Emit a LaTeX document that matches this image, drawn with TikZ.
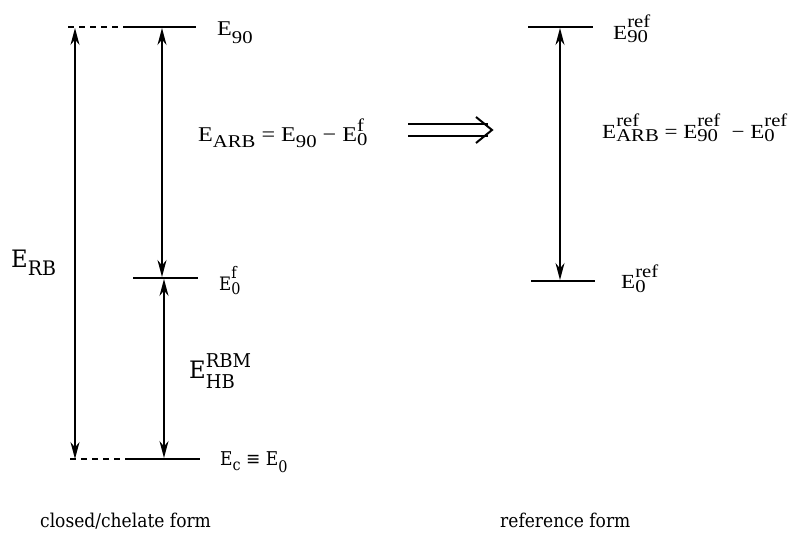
\documentclass[tikz,border=0pt]{standalone}
\usepackage{fontspec}
\setmainfont{Liberation Serif}[FakeStretch=1.15]
\newfontfamily\dvs{DejaVu Serif}[FakeStretch=0.9]
\newfontfamily\dvsn{DejaVu Serif}[FakeStretch=0.95]
\usetikzlibrary{arrows.meta}
\def\subsz{18}
\newcommand\subfont{\fontsize{\subsz}{\subsz}\selectfont}
\newcommand\lsub[2]{{\subfont\raisebox{-#1}{#2}}}
\newcommand\lsubsup[4]{{\subfont\setbox0\hbox{\raisebox{-#1}{#2}}\setbox2\hbox{\raisebox{#3}{#4}}\ifdim\wd0>\wd2 \rlap{\box2}\box0 \else\rlap{\box0}\box2 \fi}}
\tikzset{
  level/.style={line width=2.2pt},
  dashlevel/.style={line width=1.6pt, dash pattern=on 6pt off 5pt},
  arr/.style={line width=1.4pt, {Stealth[length=17pt,width=9pt]}-{Stealth[length=17pt,width=9pt]}},
  lab/.style={anchor=base west, inner sep=0pt, font={\fontsize{21}{25}\selectfont\def\subsz{18}}},
  rlab/.style={anchor=base west, inner sep=0pt, font={\fontsize{20}{24}\selectfont\def\subsz{18}}},
  dlab/.style={anchor=base west, inner sep=0pt, font={\dvs\fontsize{19}{23}\selectfont\def\subsz{16}}},
  slab/.style={anchor=base west, inner sep=0pt, font={\dvs\fontsize{18.5}{22}\selectfont\def\subsz{16}}},
  biglab/.style={anchor=base west, inner sep=0pt, font={\dvsn\fontsize{24}{28}\selectfont\def\subsz{20}}},
  implies/.style={line width=2pt},
}
\begin{document}
\begin{tikzpicture}[x=1pt,y=-1pt]
\useasboundingbox (0,0) rectangle (795,534);
% left diagram levels
\coordinate (tdl) at (68,27);
\coordinate (t1) at (127,27);
\coordinate (t2) at (196,27);
\coordinate (f1) at (133,278);
\coordinate (f2) at (198,278);
\coordinate (bdl) at (70,459);
\coordinate (b1) at (129,459);
\coordinate (b2) at (200,459);
\draw[dashlevel] (tdl) -- (t1);
\draw[level] (t1) -- (t2);
\draw[level] (f1) -- (f2);
\draw[dashlevel] (bdl) -- (b1);
\draw[level] (b1) -- (b2);
% arrows
\coordinate (La) at (75,28);
\coordinate (Lb) at (75,459);
\coordinate (Ma) at (162,28);
\coordinate (Mb) at (162,277);
\coordinate (Na) at (164,279);
\coordinate (Nb) at (164,458);
\draw[arr] (Lb) -- (La);
\draw[arr] (Mb) -- (Ma);
\draw[arr] (Nb) -- (Na);
% right diagram
\coordinate (r1) at (528,27);
\coordinate (r2) at (593,27);
\coordinate (s1) at (531,281);
\coordinate (s2) at (595,281);
\draw[level] (r1) -- (r2);
\draw[level] (s1) -- (s2);
\coordinate (Ra) at (560,28);
\coordinate (Rb) at (560,280);
\draw[arr] (Rb) -- (Ra);
% implies arrow
\coordinate (Ia1) at (408,124);
\coordinate (Ib1) at (488,124);
\coordinate (Ia2) at (408,136);
\coordinate (Ib2) at (488,136);
\coordinate (Ch1) at (476,117);
\coordinate (Cht) at (492,130);
\coordinate (Ch2) at (476,143);
\draw[implies] (Ia1) -- (Ib1);
\draw[implies] (Ia2) -- (Ib2);
\draw[implies, line join=miter] (Ch1) -- (Cht) -- (Ch2);
% labels
\node[lab] (e90) at (217,36) {E\lsub{8pt}{90}};
\node[lab] (earb) at (198,142) {E\lsub{6pt}{ARB} = E\lsub{6pt}{90} − E\lsubsup{4pt}{0}{10pt}{f}};
\node[rlab] (e90r) at (613,40) {E\lsubsup{3pt}{90}{12pt}{ref}};
\node[rlab] (earbr) at (602,139) {E\lsubsup{3pt}{ARB}{12pt}{ref} = E\lsubsup{3pt}{90}{12pt}{ref}\; − E\lsubsup{3pt}{0}{12pt}{ref}};
\node[rlab] (e0r) at (621,289) {E\lsubsup{4pt}{0}{11pt}{ref}};
\node[slab] (e0f) at (219,291) {E\lsubsup{4pt}{0}{12pt}{f}};
\node[biglab] (erb) at (11,268) {E\lsub{8pt}{RB}};
\node[biglab, font={\dvsn\fontsize{24}{28}\selectfont\def\subsz{19}}] (ehb) at (189,378) {E\lsubsup{10pt}{HB}{10pt}{RBM}};
\node[dlab] (ec) at (220,465) {E\lsub{5pt}{c} ≡ E\lsub{7pt}{0}};
\node[dlab] (cf) at (40,527) {closed/chelate form};
\node[dlab] (rf) at (500,527) {reference form};
\end{tikzpicture}
\end{document}
